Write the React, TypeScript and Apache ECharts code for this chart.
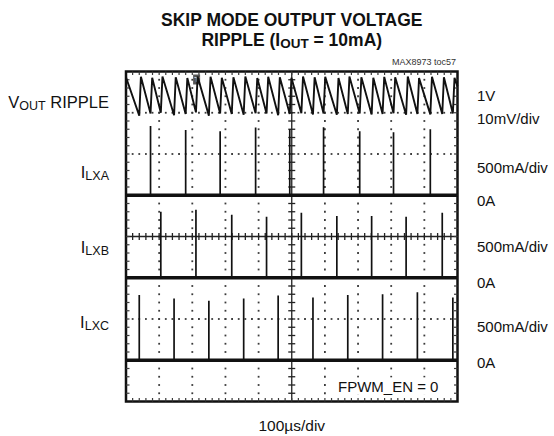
import React, { useEffect, useRef } from "react";
import * as echarts from "echarts";

// Scope settings
const TIME_PER_DIV = 100; // µs/div
const X_DIVS = 10;
const Y_DIVS = 8;
const MA_PER_DIV = 500;
const MV_PER_DIV = 10;

// Channel reference positions, in divisions from the bottom of the screen
const RIPPLE_REF_DIV = 7.42;
const LXA_ZERO_DIV = 5;
const LXB_ZERO_DIV = 3;
const LXC_ZERO_DIV = 1;

// Inductor current pulses (time in µs, peak in mA)
const spikeTimesA = [74, 180, 284, 391, 494, 596, 705, 807, 918];
const spikePeaksA = [840, 790, 776, 820, 800, 824, 776, 764, 800];
const spikeTimesB = [105, 211, 319, 424, 529, 636, 741, 845, 954];
const spikePeaksB = [800, 824, 764, 740, 788, 750, 750, 740, 788];
const spikeTimesC = [40, 145, 250, 355, 459, 564, 669, 774, 879, 986];
const spikePeaksC = [792, 750, 720, 750, 785, 760, 790, 800, 825, 760];

// Output ripple around 1V (mV): level before and after each phase pulse
const rippleStart = 4.4;
const rippleEnd = 2.2;
const rippleTroughs = [-4.9, -4.4, -4.2, -4.8, -4.5, -4.1, -4.9, -4.4, -4.5, -4.7, -4.3, -4.4, -4.8, -4.5, -4.3, -4.6, -4.4, -4.7, -4.5, -4.4, -4.6, -4.5, -4.3, -4.7, -4.5, -4.6, -4.5, -4.4];
const ripplePeaks = [4.5, 4.3, 4.6, 4.4, 4.2, 4.6, 4.5, 4.3, 4.4, 4.6, 4.2, 4.5, 4.4, 4.3, 4.6, 4.4, 4.5, 4.2, 4.6, 4.4, 4.3, 4.5, 4.4, 4.6, 4.2, 4.5, 4.4, 4.3];
const RISE_US = 5;

const triggerTime = 213; // µs

// Channel names and scale annotations
const channelLabels = [
  { main: "V", sub: "OUT", tail: " RIPPLE", y: 102 },
  { main: "I", sub: "LXA", tail: "", y: 172 },
  { main: "I", sub: "LXB", tail: "", y: 247 },
  { main: "I", sub: "LXC", tail: "", y: 322 },
];
const scaleLabels = [
  { text: "1V", y: 95 },
  { text: "10mV/div", y: 118 },
  { text: "500mA/div", y: 167.5 },
  { text: "0A", y: 200 },
  { text: "500mA/div", y: 246 },
  { text: "0A", y: 282 },
  { text: "500mA/div", y: 326 },
  { text: "0A", y: 362.5 },
];

const FAMILY = '"Liberation Sans", Arial, sans-serif';
const INK = "#111";

let measureCtx: CanvasRenderingContext2D | null = null;
function textWidth(text: string, font: string) {
  if (!measureCtx) measureCtx = document.createElement("canvas").getContext("2d");
  measureCtx!.font = font;
  return measureCtx!.measureText(text).width;
}

// Lays out main/sub/tail pieces as separate text elements so the subscript sits below the baseline
function subscripted(
  main: string,
  sub: string,
  tail: string,
  anchorX: number,
  y: number,
  anchor: "right" | "center",
  size: number,
  subSize: number,
  weight: string,
  drop: number
) {
  const fMain = `${weight} ${size}px ${FAMILY}`;
  const fSub = `${weight} ${subSize}px ${FAMILY}`;
  const w1 = textWidth(main, fMain);
  const w2 = textWidth(sub, fSub);
  const w3 = textWidth(tail, fMain);
  const total = w1 + w2 + w3;
  const x0 = anchor === "right" ? anchorX - total : anchorX - total / 2;
  const els: any[] = [
    { type: "text", x: x0, y, style: { text: main, font: fMain, fill: INK, align: "left", verticalAlign: "middle" } },
    { type: "text", x: x0 + w1, y: y + drop, style: { text: sub, font: fSub, fill: INK, align: "left", verticalAlign: "middle" } },
  ];
  if (tail) {
    els.push({ type: "text", x: x0 + w1 + w2, y, style: { text: tail, font: fMain, fill: INK, align: "left", verticalAlign: "middle" } });
  }
  return els;
}

function spikeData(times: number[], peaks: number[], zero: number) {
  const out: any[] = [];
  times.forEach((t, i) => {
    out.push([t, zero]);
    out.push([t, zero + peaks[i] / MA_PER_DIV]);
    out.push([t, "-"]);
  });
  return out;
}

function rippleData() {
  const events = [...spikeTimesA, ...spikeTimesB, ...spikeTimesC].sort((a, b) => a - b);
  const out: number[][] = [[0, RIPPLE_REF_DIV + rippleStart / MV_PER_DIV]];
  events.forEach((t, i) => {
    out.push([t, RIPPLE_REF_DIV + rippleTroughs[i] / MV_PER_DIV]);
    out.push([t + RISE_US, RIPPLE_REF_DIV + ripplePeaks[i] / MV_PER_DIV]);
  });
  out.push([X_DIVS * TIME_PER_DIV, RIPPLE_REF_DIV + rippleEnd / MV_PER_DIV]);
  return out;
}

function baseline(zero: number) {
  return [
    [0, zero],
    [X_DIVS * TIME_PER_DIV, zero],
  ];
}

// Graticule: dotted division lines, centre cross with ticks, edge ticks, trigger marker
function renderGraticule(params: any, api: any) {
  const children: any[] = [];
  const pt = (dx: number, dy: number) => api.coord([dx * TIME_PER_DIV, dy]);
  const dot = "#3a3a3a";
  const sub = 5;
  for (let i = 1; i < X_DIVS; i++) {
    if (i === X_DIVS / 2) continue;
    for (let k = 1; k < Y_DIVS * sub; k++) {
      const c = pt(i, k / sub);
      children.push({ type: "rect", shape: { x: c[0] - 0.9, y: c[1] - 0.9, width: 1.8, height: 1.8 }, style: { fill: dot } });
    }
  }
  for (let j = 1; j < Y_DIVS; j++) {
    if (j === Y_DIVS / 2) continue;
    for (let k = 1; k < X_DIVS * sub; k++) {
      const c = pt(k / sub, j);
      children.push({ type: "rect", shape: { x: c[0] - 0.9, y: c[1] - 0.9, width: 1.8, height: 1.8 }, style: { fill: dot } });
    }
  }
  const cx0 = pt(X_DIVS / 2, 0);
  const cx1 = pt(X_DIVS / 2, Y_DIVS);
  const cy0 = pt(0, Y_DIVS / 2);
  const cy1 = pt(X_DIVS, Y_DIVS / 2);
  const lineStyle = { stroke: "#222", lineWidth: 1.3 };
  children.push({ type: "line", shape: { x1: cx0[0], y1: cx0[1], x2: cx1[0], y2: cx1[1] }, style: lineStyle });
  children.push({ type: "line", shape: { x1: cy0[0], y1: cy0[1], x2: cy1[0], y2: cy1[1] }, style: lineStyle });
  for (let k = 1; k < Y_DIVS * sub; k++) {
    const c = pt(X_DIVS / 2, k / sub);
    children.push({ type: "line", shape: { x1: c[0] - 3.5, y1: c[1], x2: c[0] + 3.5, y2: c[1] }, style: lineStyle });
    const l = pt(0, k / sub);
    const r = pt(X_DIVS, k / sub);
    children.push({ type: "line", shape: { x1: l[0], y1: l[1], x2: l[0] + 3.5, y2: l[1] }, style: { stroke: dot, lineWidth: 1.2 } });
    children.push({ type: "line", shape: { x1: r[0] - 3.5, y1: r[1], x2: r[0], y2: r[1] }, style: { stroke: dot, lineWidth: 1.2 } });
  }
  for (let k = 1; k < X_DIVS * sub; k++) {
    const c = pt(k / sub, Y_DIVS / 2);
    children.push({ type: "line", shape: { x1: c[0], y1: c[1] - 3.5, x2: c[0], y2: c[1] + 3.5 }, style: lineStyle });
    const t = pt(k / sub, Y_DIVS);
    const b = pt(k / sub, 0);
    children.push({ type: "line", shape: { x1: t[0], y1: t[1], x2: t[0], y2: t[1] + 3.5 }, style: { stroke: dot, lineWidth: 1.2 } });
    children.push({ type: "line", shape: { x1: b[0], y1: b[1] - 3.5, x2: b[0], y2: b[1] }, style: { stroke: dot, lineWidth: 1.2 } });
  }
  const tr = api.coord([triggerTime, Y_DIVS]);
  children.push({ type: "rect", shape: { x: tr[0] - 3.5, y: tr[1] + 3, width: 7, height: 10 }, style: { fill: "#555" } });
  children.push({
    type: "text",
    style: { x: tr[0], y: tr[1] + 8, text: "T", fill: "#ddd", font: `bold 8px ${FAMILY}`, align: "center", verticalAlign: "middle" },
  });
  return { type: "group", children };
}

export default function App() {
  const ref = useRef<HTMLDivElement>(null);
  useEffect(() => {
    if (!ref.current) return;
    const chart = echarts.init(ref.current, undefined, { renderer: "svg" });
    const traceStyle = { color: INK, width: 1.7 };
    const plotCenterX = 126 + 331.5 / 2;

    const texts: any[] = [
      {
        type: "text",
        x: plotCenterX,
        y: 19.5,
        style: { text: "SKIP MODE OUTPUT VOLTAGE", font: `bold 17.5px ${FAMILY}`, fill: INK, align: "center", verticalAlign: "middle" },
      },
      ...subscripted("RIPPLE (I", "OUT", " = 10mA)", plotCenterX, 40, "center", 17.5, 13.5, "bold", 3.5),
      { type: "text", x: 456, y: 62, style: { text: "MAX8973 toc57", font: `9px ${FAMILY}`, fill: "#333", align: "right", verticalAlign: "middle" } },
      ...channelLabels.flatMap((c) => subscripted(c.main, c.sub, c.tail, 109, c.y, "right", 16.5, 12.5, "normal", 3.5)),
      ...scaleLabels.map((s) => ({
        type: "text",
        x: 477,
        y: s.y,
        style: { text: s.text, font: `15px ${FAMILY}`, fill: INK, align: "left", verticalAlign: "middle" },
      })),
      {
        type: "text",
        x: 336,
        y: 386,
        z: 10,
        style: { text: "FPWM_EN = 0", font: `15px ${FAMILY}`, fill: INK, backgroundColor: "#fff", padding: [1, 2], align: "left", verticalAlign: "middle" },
      },
      { type: "text", x: plotCenterX, y: 425, style: { text: "100µs/div", font: `15.5px ${FAMILY}`, fill: INK, align: "center", verticalAlign: "middle" } },
    ];

    chart.setOption({
      animation: false,
      backgroundColor: "#fff",
      grid: { left: 126, top: 71.5, width: 331.5, height: 330, show: true, borderColor: INK, borderWidth: 2.5, backgroundColor: "#fff" },
      xAxis: {
        type: "value",
        min: 0,
        max: X_DIVS * TIME_PER_DIV,
        interval: TIME_PER_DIV,
        axisLine: { show: false },
        axisTick: { show: false },
        axisLabel: { show: false },
        splitLine: { show: false },
      },
      yAxis: {
        type: "value",
        min: 0,
        max: Y_DIVS,
        interval: 1,
        axisLine: { show: false },
        axisTick: { show: false },
        axisLabel: { show: false },
        splitLine: { show: false },
      },
      series: [
        { type: "custom", name: "graticule", renderItem: renderGraticule, data: [[0, 0]], z: 1, silent: true },
        { type: "line", name: "VOUT", data: rippleData(), showSymbol: false, lineStyle: { color: INK, width: 1.9 }, z: 3 },
        { type: "line", name: "ILXA base", data: baseline(LXA_ZERO_DIV), showSymbol: false, lineStyle: { color: INK, width: 3.5 }, z: 3 },
        { type: "line", name: "ILXB base", data: baseline(LXB_ZERO_DIV), showSymbol: false, lineStyle: { color: INK, width: 3.5 }, z: 3 },
        { type: "line", name: "ILXC base", data: baseline(LXC_ZERO_DIV), showSymbol: false, lineStyle: { color: INK, width: 3.5 }, z: 3 },
        { type: "line", name: "ILXA", data: spikeData(spikeTimesA, spikePeaksA, LXA_ZERO_DIV), showSymbol: false, lineStyle: traceStyle, z: 3 },
        { type: "line", name: "ILXB", data: spikeData(spikeTimesB, spikePeaksB, LXB_ZERO_DIV), showSymbol: false, lineStyle: traceStyle, z: 3 },
        { type: "line", name: "ILXC", data: spikeData(spikeTimesC, spikePeaksC, LXC_ZERO_DIV), showSymbol: false, lineStyle: traceStyle, z: 3 },
      ],
      graphic: texts,
    });
    return () => chart.dispose();
  }, []);
  return <div ref={ref} style={{ position: "fixed", left: 0, top: 0, width: 554, height: 436 }} />;
}
